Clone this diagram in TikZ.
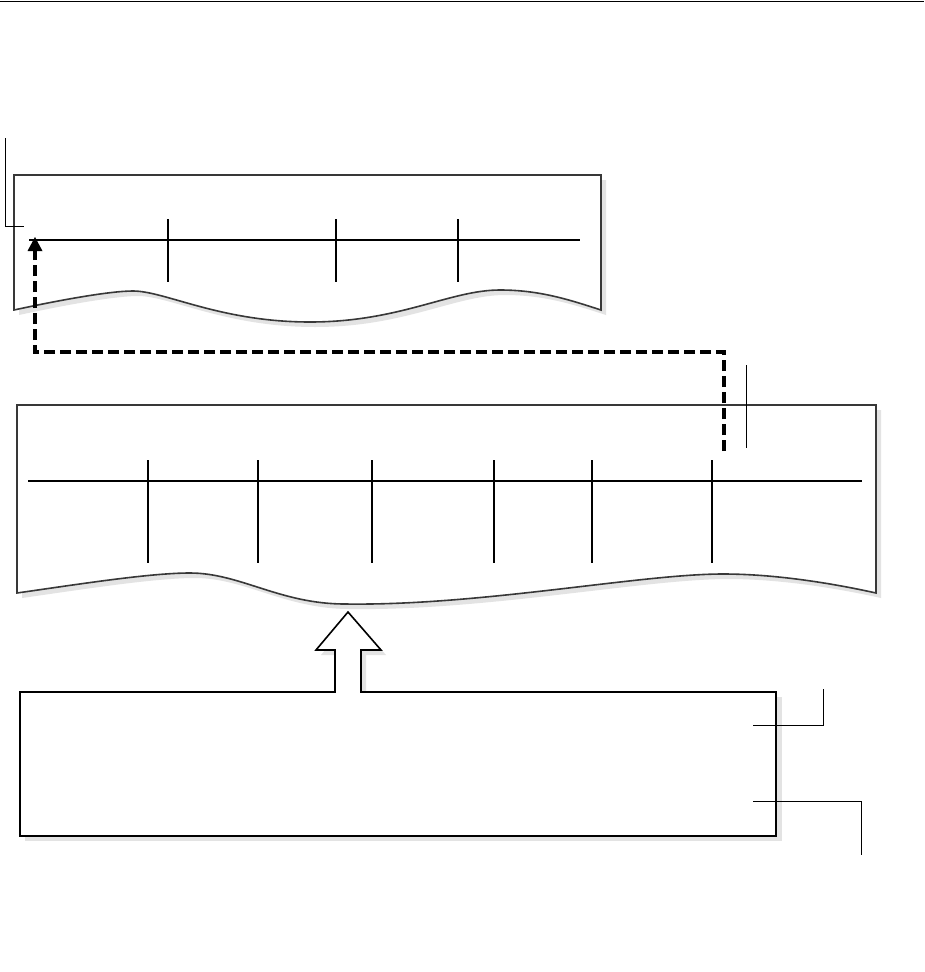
\documentclass[tikz,border=0pt]{standalone}
\usetikzlibrary{arrows.meta}
\definecolor{shad}{gray}{0.89}
\definecolor{edge}{gray}{0.22}
\tikzset{
  x=1pt,y=-1pt,
  boxedge/.style={draw=edge,line width=1.6pt,fill=white,line join=miter},
  shadowfill/.style={fill=shad,draw=none},
  scale line/.style={line width=2pt,draw=black},
  callout/.style={line width=1pt,draw=black},
  dashline/.style={line width=3.6pt,dash pattern=on 11pt off 5pt,draw=black},
}
\def\topwave{(14,175) -- (601,175) -- (601,310) .. controls (570,300) and (540,290) .. (500,290) .. controls (450,290) and (400,322) .. (310,322) .. controls (220,322) and (165,291) .. (133,291) .. controls (110,291) and (60,300) .. (14,310) -- cycle}
\def\bigwave{(17,405) -- (876,405) -- (876,593) .. controls (840,585) and (780,574) .. (723,574) .. controls (640,574) and (480,606) .. (345,604) .. controls (280,604) and (240,573) .. (190,573) .. controls (150,573) and (80,584) .. (17,593) -- cycle}
\begin{document}
\begin{tikzpicture}
\useasboundingbox (0,0) rectangle (924,972);
\fill[white] (0,0) rectangle (924,972);
% top rule
\draw[line width=1.5pt] (0,1.5) -- (924,1.5);

% top strip
\fill[shadowfill,shift={(5,5)}] \topwave;
\path[boxedge] \topwave;
\coordinate (ta) at (29,240);
\coordinate (tb) at (580,240);
\draw[scale line] (ta) -- (tb);
\foreach \xx in {168,336,458} \draw[scale line] (\xx,219) -- (\xx,282);

% callout top left
\coordinate (c1a) at (5,138);
\coordinate (c1b) at (5,226);
\coordinate (c1c) at (24,226);
\draw[callout] (c1a) -- (c1b) -- (c1c);

% big strip
\fill[shadowfill,shift={(5,5)}] \bigwave;
\path[boxedge] \bigwave;
\draw[scale line] (28,481) -- (862,481);
\foreach \xx in {148,258,372,494,592,712} \draw[scale line] (\xx,460) -- (\xx,563);

% dashed connector
\coordinate (ds) at (724,451);
\coordinate (dc1) at (724,352);
\coordinate (dc2) at (35,352);
\coordinate (de) at (35,237);
\coordinate (deb) at (35,250);
\draw[dashline] (ds) -- (dc1) -- (dc2) -- (deb);
\fill (de) -- ++(-7.5,14) -- ++(15,0) -- cycle;

% callout near dashed line
\coordinate (c2a) at (746,365);
\coordinate (c2b) at (746,448);
\draw[callout] (c2a) -- (c2b);

% bottom box with hollow arrow
\fill[shad] (25,697) rectangle (782,841);
\fill[shad] (340,697) -- (340,655) -- (321,655) -- (353,617) -- (386,655) -- (366,655) -- (366,697) -- cycle;
\draw[line width=1.6pt,fill=white,line join=miter]
  (20,692) -- (335,692) -- (335,650) -- (316,650) -- (348,612) -- (381,650) -- (361,650) -- (361,692) -- (776,692) -- (776,836) -- (20,836) -- cycle;

% right callouts
\coordinate (c3a) at (753,725);
\coordinate (c3b) at (823,725);
\coordinate (c3c) at (823,689);
\draw[callout] (c3a) -- (c3b) -- (c3c);
\coordinate (c4a) at (753,801);
\coordinate (c4b) at (861,801);
\coordinate (c4c) at (861,855);
\draw[callout] (c4a) -- (c4b) -- (c4c);
\end{tikzpicture}
\end{document}
